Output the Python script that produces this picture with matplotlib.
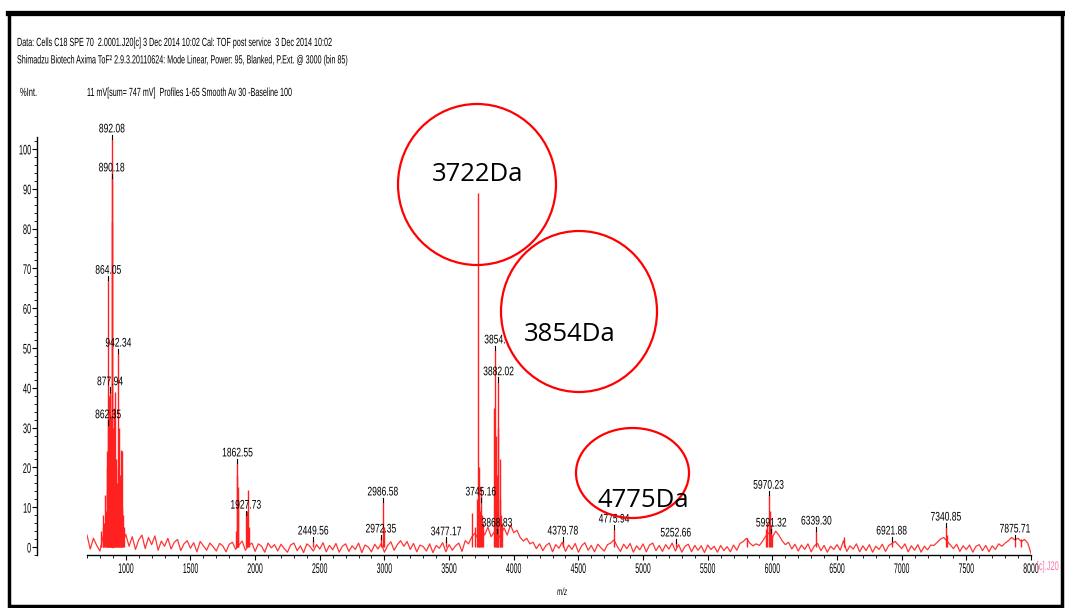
import numpy as np
import matplotlib
matplotlib.use("Agg")
import matplotlib.pyplot as plt
from matplotlib.patches import Ellipse, Rectangle
from matplotlib.lines import Line2D
from matplotlib.ticker import MultipleLocator
from matplotlib.patheffects import AbstractPathEffect
from matplotlib.transforms import Affine2D

SANS = ['Liberation Sans', 'DejaVu Sans']
ROUND = ['Open Sans', 'DejaVu Sans']
plt.rcParams['font.family'] = SANS

# ---------------- data ----------------
noise_start = 700
noise_step = 25
noise_vals = [
    3.0, -0.5, 2.2, 0.4, -1.0, 2.8, 0.9, 3.5, -0.2, 2.0, 4.0, 1.0, 3.2, 0.2, 2.6, -0.6, 1.8, 3.0, -0.4, 2.4,
    0.6, 2.8, -0.8, 1.5, 0.2, 2.2, -0.5, 1.2, 1.9, -0.9, 0.8, 1.6, -0.3, 1.1, -1.2, 1.4, 0.3, -0.8, 1.0, 0.1,
    -1.0, 0.9, 0.3, -1.2, 0.7, 1.2, -0.6, 0.5, 1.5, -0.8, 0.4, 1.0, -1.1, 0.8, 0.2, -1.3, 1.0, -0.2, 0.6, -1.0,
    0.7, -0.4, -1.3, 0.5, 1.0, -0.9, 0.3, -1.4, 0.8, 0.1, -1.0, 0.6, -0.5, 1.1, -1.2, 0.4, -0.7, 0.9, -1.3, 0.2,
    0.8, -1.1, 0.3, -0.6, 1.0, -1.4, 0.5, 0.0, -1.2, 0.7, -0.5, 0.9, -1.3, 0.4, 1.3, -0.8, 0.6, 1.6, 0.2, 1.4,
    -0.6, 0.9, -1.2, 0.5, 0.1, -1.0, 0.8, -1.4, 0.4, -0.3, 1.1, -1.2, 0.6, -0.8, 0.3, 1.0, -1.1, 1.6, 0.8, 2.5,
    3.5, 2.0, 4.5, 3.0, 5.0, 2.6, 3.8, 1.8, 3.2, 4.8, 3.0, 5.5, 3.6, 4.2, 2.4, 1.5, 2.2, 0.8, 1.2, -0.4,
    0.8, -0.9, 0.4, 1.0, -1.2, 0.6, -0.3, 1.2, -1.1, 0.5, -0.6, 0.9, -1.3, 0.3, 1.1, -0.8, 0.4, -1.2, 0.7, -0.2,
    -1.0, 0.6, 1.0, 1.8, 0.2, -1.1, 0.7, -0.4, 0.9, -1.3, 0.3, -0.7, 0.8, -1.2, 0.5, 1.0, -0.9, 0.4, -1.1, 0.6,
    -0.5, 1.0, -1.0, 0.6, -1.3, 0.2, 0.7, -1.2, 0.4, -0.8, 0.3, -1.4, 0.5, -0.6, 0.2, -1.3, 0.4, -0.9, 0.1, -1.2,
    0.5, -0.8, 0.9, 1.4, 2.2, 1.0, 0.3, 0.8, 0.4, 1.5, 2.8, 3.6, 2.4, 4.0, 3.0, 1.6, 0.6, 1.2, -0.5, 0.7,
    -1.0, 0.5, -0.6, 0.8, -1.2, 0.3, 0.9, -0.9, 0.4, -1.3, 0.2, -0.6, 0.6, -0.8, 1.6, -1.1, 0.3, -0.5, 0.8, -1.2,
    0.3, -0.9, 0.6, -1.3, 0.2, -0.6, 0.7, -1.1, 0.4, 0.9, 1.4, 0.5, -0.4, 0.8, -1.2, 0.3, -0.8, 0.6, -1.3, 0.2,
    -0.7, 0.5, 0.4, 1.2, 2.0, 2.4, 1.5, 0.6, -0.4, 0.7, -1.1, 0.3, -0.6, 0.5, -1.3, 0.2, 0.6, -0.9, 0.4, -1.2,
    0.3, -0.6, 0.8, 0.2, 1.0, 1.6, 2.4, 1.8, 2.2, 1.4, 1.9, 1.0, -1.6,
]

peak_mz = [808, 820, 826, 832, 840, 848, 852, 856, 858, 862.35, 864.05, 868, 872,
           875, 877.94, 882, 884, 886, 890.18, 892.08, 895, 898, 900, 903, 906,
           909, 912, 917, 924, 928, 932, 936, 942.34, 946, 950, 955, 960, 964,
           969, 973, 978, 988,
           1850, 1858, 1862.55, 1866, 1870, 1927.73, 1940, 1946, 1955,
           2449.56, 2972.35, 2986.58, 2995, 3477.17,
           3676, 3700, 3716, 3722, 3728, 3733, 3740, 3745.16, 3752, 3760,
           3847, 3854, 3862, 3868.83, 3872, 3878, 3882.02, 3890, 3895, 3900, 3910,
           4379.78, 4775.94, 5252.66, 5800, 5950, 5962, 5970.23, 5978, 5991.32,
           6000, 6339.30, 6555, 6921.88, 7340.85, 7350, 7875.71, 7920]
peak_h = [4, 5, 8, 6, 13, 9, 14, 20, 24, 30.7, 67, 38, 30,
          26, 39, 33, 20, 28, 92.7, 102.5, 81.6, 30, 25, 20, 18,
          27, 35, 39, 22, 15, 16, 20, 48.7, 30, 12, 18, 24.4, 14,
          24, 10, 8, 5,
          4, 18, 21.1, 12, 15, 8, 9, 14.3, 5,
          1.5, 2.5, 11.3, 5, 1.5,
          8.5, 5, 12, 89, 20, 10, 9, 15, 8, 6,
          35, 49.5, 28, 8, 18, 30, 41.5, 22, 12, 8, 6,
          1.5, 4.5, 1.2, 2.2, 4.5, 6, 13, 9, 5.5,
          3, 4, 2.5, 1.5, 5, 3, 2.2, 2]

label_text = ["892.08", "890.18", "864.05", "942.34", "877.94", "862.35",
              "1862.55", "1927.73", "2449.56", "2986.58", "2972.35", "3477.17",
              "3745.16", "3854.", "3882.02", "3868.83", "4379.78", "4775.94",
              "5252.66", "5970.23", "5991.32", "6339.30", "6921.88", "7340.85",
              "7875.71"]
label_mz = [892.08, 890.18, 864.05, 942.34, 877.94, 862.35,
            1862.55, 1927.73, 2449.56, 2986.58, 2972.35, 3477.17,
            3745.16, 3854, 3882.02, 3868.83, 4379.78, 4775.94,
            5252.66, 5970.23, 5991.32, 6339.30, 6921.88, 7340.85,
            7875.71]
label_h = [102.5, 92.7, 67, 48.7, 39, 30.7,
           21.1, 8, 1.5, 11.3, 2, 1.3,
           11.3, 49.5, 41.5, 3.5, 1.5, 4.5,
           1.0, 13, 3.5, 4, 1.5, 5,
           2.0]

x_ticks = [1000, 1500, 2000, 2500, 3000, 3500, 4000, 4500, 5000, 5500,
           6000, 6500, 7000, 7500, 8000]
y_ticks = [0, 10, 20, 30, 40, 50, 60, 70, 80, 90, 100]

circle_text = ["3722Da", "3854Da", "4775Da"]

W, H = 1065, 608


def fx(px):
    return px / W


def fy(py):
    return 1 - py / H


class Squeeze(AbstractPathEffect):
    """Draw text glyphs horizontally condensed (like the narrow instrument font)."""

    def __init__(self, sx, anchor='center'):
        super().__init__()
        self._sx = sx
        self._anchor = anchor

    def draw_path(self, renderer, gc, tpath, affine, rgbFace=None):
        ext = tpath.get_extents()
        if self._anchor == 'left':
            x0 = 0.0
        elif self._anchor == 'right':
            x0 = ext.x1
        else:
            x0 = 0.5 * (ext.x0 + ext.x1)
        t = Affine2D().translate(-x0, 0).scale(self._sx, 1).translate(x0, 0)
        renderer.draw_path(gc, tpath, t + affine, rgbFace)


# ---------------- figure ----------------
fig = plt.figure(figsize=(W / 100, H / 100), dpi=100)
fig.patch.set_facecolor('white')
ax = fig.add_axes([fx(87), fy(555), 944 / W, 418 / H])
renderer = fig.canvas.get_renderer()

noise_mz = noise_start + noise_step * np.arange(len(noise_vals))
ax.plot(noise_mz, noise_vals, color='#FF3535', lw=0.9, zorder=2)
ax.vlines(peak_mz, 0, peak_h, color='#FF2020', lw=1.0, zorder=3)

for t, x, h in zip(label_text, label_mz, label_h):
    ax.plot([x, x], [h, h + 1.1], color='black', lw=0.8, zorder=4, clip_on=False)
    txt = ax.text(x, h + 0.9, t, ha='center', va='bottom', fontsize=9,
                  color='black', zorder=5)
    txt.set_path_effects([Squeeze(0.68, 'center')])

ax.set_xlim(700, 8000)
ax.set_ylim(-2, 103)
ax.spines['top'].set_visible(False)
ax.spines['right'].set_visible(False)
ax.spines['left'].set_position(('outward', 36))
for s in ('left', 'bottom'):
    ax.spines[s].set_linewidth(1.0)
ax.set_xticks(x_ticks)
ax.set_yticks(y_ticks)
ax.xaxis.set_minor_locator(MultipleLocator(100))
ax.yaxis.set_minor_locator(MultipleLocator(2))
ax.tick_params(axis='both', which='major', labelsize=10, length=3.5, width=0.8, pad=1.5)
ax.tick_params(axis='y', which='major', pad=0.5)
ax.tick_params(axis='both', which='minor', length=2.5, width=0.6)
for lbl in ax.get_xticklabels():
    lbl.set_path_effects([Squeeze(0.5, 'center')])
for lbl in ax.get_yticklabels():
    lbl.set_path_effects([Squeeze(0.53, 'right')])


def fitted_text(px, py, s, size, target_w, ha='left', **kw):
    t = fig.text(fx(px), fy(py), s, fontsize=size, ha=ha, va='center', **kw)
    w = t.get_window_extent(renderer).width
    t.set_path_effects([Squeeze(target_w / w, ha)])
    return t


# header texts
fitted_text(17, 43, "Data: Cells C18 SPE 70  2.0001.J20[c] 3 Dec 2014 10:02 Cal: TOF post service  3 Dec 2014 10:02",
            8.5, 314)
fitted_text(17, 60, "Shimadzu Biotech Axima ToF\u00b2 2.9.3.20110624: Mode Linear, Power: 95, Blanked, P.Ext. @ 3000 (bin 85)",
            8.5, 330)
fitted_text(20, 93, "%Int.", 8.5, 17)
fitted_text(87, 93, "11 mV[sum= 747 mV]  Profiles 1-65 Smooth Av 30 -Baseline 100", 8.5, 205)
fitted_text(562, 592, "m/z", 7.5, 10, ha='center', style='italic')
fitted_text(1059, 567, "[c].J20", 9, 22, ha='right', color='#FF6FB0')

# annotation circles
ell = [((477, 184.5), 158, 161), ((579, 311.5), 156, 161), ((632.5, 473), 113, 90)]
for (cx, cy), w, h in ell:
    fig.add_artist(Ellipse((fx(cx), fy(cy)), w / W, h / H, transform=fig.transFigure,
                           fill=False, ec='#FF0000', lw=1.6, zorder=10))
txt_pos = [(477.5, 181), (569.5, 341), (643, 507)]
for t, (px, py) in zip(circle_text, txt_pos):
    fig.text(fx(px), fy(py), t, fontsize=18.5, family=ROUND, ha='center',
             va='baseline', color='black', zorder=11)

# outer black frame
fig.add_artist(Rectangle((fx(8.5), fy(605.5)), (1061.5 - 8.5) / W, (605.5 - 12.5) / H,
                         transform=fig.transFigure, fill=False, ec='black', lw=2.5, zorder=20))
fig.add_artist(Line2D([fx(8), fx(1063)], [fy(12.5), fy(12.5)], transform=fig.transFigure,
                      color='black', lw=3.8, zorder=20))

fig.savefig('out.png', dpi=100)
